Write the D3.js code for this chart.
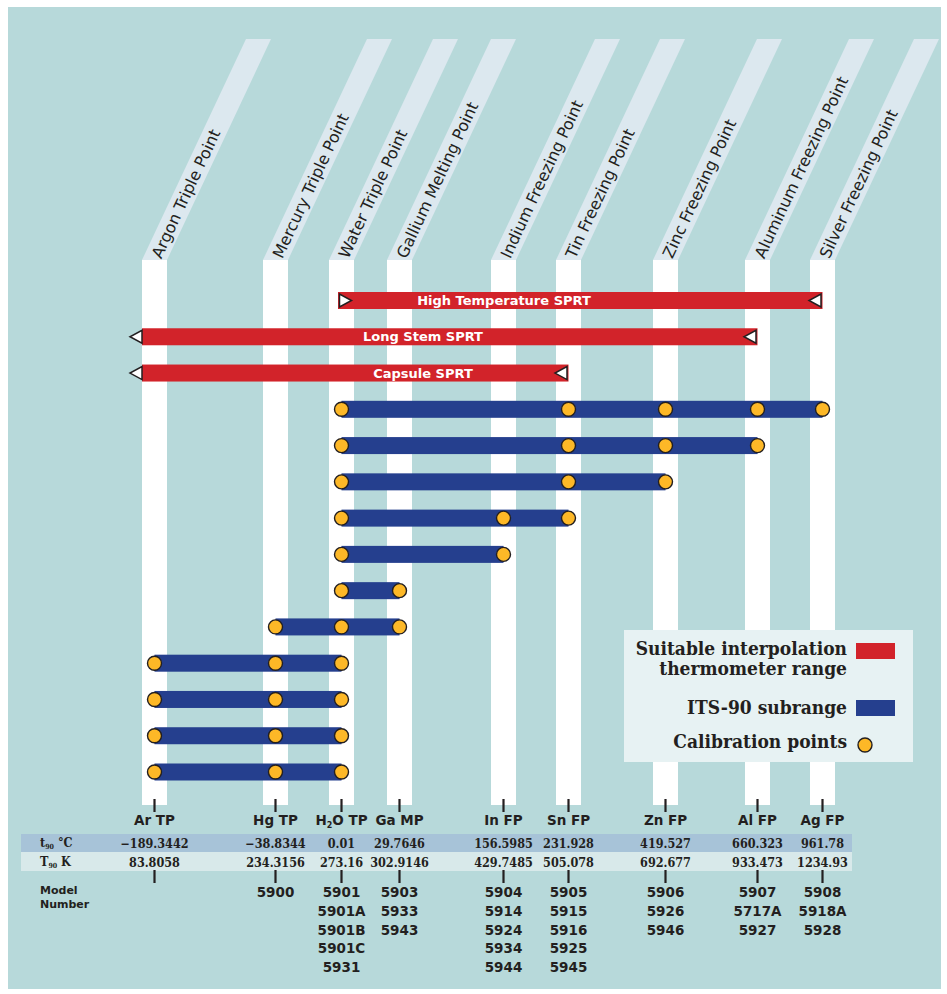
<!DOCTYPE html>
<html><head><meta charset="utf-8">
<script src="https://cdn.jsdelivr.net/npm/d3@7"></script>
<style>body{margin:0;background:#fff}svg{display:block}</style>
</head><body><svg id="c" width="947" height="994"></svg>
<script>
// ---------- DATA ----------
const pointCodes = ["Ar","Hg","H2O","Ga","In","Sn","Zn","Al","Ag"];
const pointNames = ["Argon Triple Point","Mercury Triple Point","Water Triple Point","Gallium Melting Point","Indium Freezing Point","Tin Freezing Point","Zinc Freezing Point","Aluminum Freezing Point","Silver Freezing Point"];
const pointShort = ["Ar|TP","Hg|TP","H2O|TP","Ga|MP","In|FP","Sn|FP","Zn|FP","Al|FP","Ag|FP"];
const t90C = ["\u2212189.3442","\u221238.8344","0.01","29.7646","156.5985","231.928","419.527","660.323","961.78"];
const T90K = ["83.8058","234.3156","273.16","302.9146","429.7485","505.078","692.677","933.473","1234.93"];
const modelNumbers = [[],["5900"],["5901","5901A","5901B","5901C","5931"],["5903","5933","5943"],["5904","5914","5924","5934","5944"],["5905","5915","5916","5925","5945"],["5906","5926","5946"],["5907","5717A","5927"],["5908","5918A","5928"]];
const thermometers = ["High Temperature SPRT","Long Stem SPRT","Capsule SPRT"];
const thermoFrom = ["H2O","Ar","Ar"];
const thermoTo = ["Ag","Al","Sn"];
const thermoBelowLowest = [false,true,true];
const subranges = [
  ["H2O","Sn","Zn","Al","Ag"],
  ["H2O","Sn","Zn","Al"],
  ["H2O","Sn","Zn"],
  ["H2O","In","Sn"],
  ["H2O","In"],
  ["H2O","Ga"],
  ["Hg","H2O","Ga"],
  ["Ar","Hg","H2O"],
  ["Ar","Hg","H2O"],
  ["Ar","Hg","H2O"],
  ["Ar","Hg","H2O"]
];
const legendItems = [["Suitable interpolation","thermometer range"],["ITS-90 subrange"],["Calibration points"]];

// ---------- LAYOUT ----------
const colX = [154.5,275.5,341.5,399.5,503.5,568.5,665.5,757.5,822.5];
const thermoLabelX = [504,423,423];
const C = {bg:"#b7d9da", band:"#dce8ef", red:"#d2232a", blue:"#253f8e", yellow:"#fdb827", ink:"#231f20",
  row1:"#a7c3d8", row2:"#d8e9ea", legend:"#e7f2f3"};
const SANS = "'DejaVu Sans', sans-serif";
const SERIF = "'DejaVu Serif Condensed','DejaVu Serif', serif";

const svg = d3.select("#c");
const x = d3.scaleOrdinal().domain(pointCodes).range(colX);
const nRows = thermometers.length + subranges.length;
const y = d3.scalePoint().domain(d3.range(nRows)).range([300.5, 772]);

svg.append("rect").attr("x",8).attr("y",7).attr("width",933).attr("height",982).attr("fill",C.bg);

// table rows (drawn first, under the texts)
svg.append("rect").attr("x",21).attr("y",834).attr("width",831).attr("height",18).attr("fill",C.row1);
svg.append("rect").attr("x",21).attr("y",852).attr("width",831).attr("height",19).attr("fill",C.row2);

const stripeW = 25, stripeTop = 260, stripeBot = 805, bandTop = 39, shift = 104;
const ang = Math.atan2(-(stripeTop-bandTop), shift)*180/Math.PI;

const cols = svg.append("g").selectAll("g").data(pointCodes).join("g");
cols.append("path").attr("fill",C.band).attr("d",d=>{
  const cx=x(d);
  return `M${cx-stripeW/2},${stripeTop}L${cx+stripeW/2},${stripeTop}L${cx+stripeW/2+shift},${bandTop}L${cx-stripeW/2+shift},${bandTop}Z`;
});
cols.append("rect").attr("x",d=>x(d)-stripeW/2).attr("y",stripeTop).attr("width",stripeW).attr("height",stripeBot-stripeTop).attr("fill","#fff");
cols.append("text").attr("transform",d=>{
  const off=3, cx=x(d)+shift*off/(stripeTop-bandTop), cy=stripeTop-off;
  return `translate(${cx},${cy}) rotate(${ang})`;
}).attr("dy","0.36em").attr("font-family",SANS).attr("font-size",16).attr("fill",C.ink)
  .text((d,i)=>pointNames[i]);

// ticks
cols.append("line").attr("x1",d=>x(d)).attr("x2",d=>x(d)).attr("y1",799).attr("y2",812).attr("stroke",C.ink).attr("stroke-width",2.2);
cols.append("line").attr("x1",d=>x(d)).attr("x2",d=>x(d)).attr("y1",870).attr("y2",883).attr("stroke",C.ink).attr("stroke-width",2.2);

// short labels
cols.append("text").attr("x",d=>x(d)).attr("y",825).attr("text-anchor","middle")
  .attr("font-family",SANS).attr("font-weight","bold").attr("font-size",13.5).attr("fill",C.ink)
  .each(function(d,i){
    const t=d3.select(this); const [a,b]=pointShort[i].split("|");
    if(a==="H2O"){
      t.append("tspan").text("H");
      t.append("tspan").attr("font-size",8).attr("dy",3).text("2");
      t.append("tspan").attr("dy",-3).text("O "+b);
    } else t.text(a+" "+b);
  });

const lab1 = svg.append("text").attr("x",40).attr("y",847).attr("font-family",SERIF).attr("font-weight","bold").attr("font-size",12.5).attr("fill",C.ink);
lab1.append("tspan").text("t");
lab1.append("tspan").attr("font-size",7).attr("dy",2).text("90");
lab1.append("tspan").attr("dy",-2).text(" \u00B0C");
const lab2 = svg.append("text").attr("x",40).attr("y",866).attr("font-family",SERIF).attr("font-weight","bold").attr("font-size",12.5).attr("fill",C.ink);
lab2.append("tspan").text("T");
lab2.append("tspan").attr("font-size",7).attr("dy",2).text("90");
lab2.append("tspan").attr("dy",-2).text(" K");

cols.append("text").attr("x",d=>x(d)).attr("y",847.5).attr("text-anchor","middle").attr("font-family",SERIF)
  .attr("font-weight","bold").attr("font-size",12.5).attr("fill",C.ink).text((d,i)=>t90C[i]);
cols.append("text").attr("x",d=>x(d)).attr("y",866.5).attr("text-anchor","middle").attr("font-family",SERIF)
  .attr("font-weight","bold").attr("font-size",12.5).attr("fill",C.ink).text((d,i)=>T90K[i]);

// model numbers
svg.append("text").attr("x",40).attr("y",894).attr("font-family",SANS).attr("font-weight","bold").attr("font-size",11).attr("fill",C.ink).text("Model");
svg.append("text").attr("x",40).attr("y",908).attr("font-family",SANS).attr("font-weight","bold").attr("font-size",11).attr("fill",C.ink).text("Number");
cols.each(function(d,i){
  d3.select(this).selectAll("text.m").data(modelNumbers[i]).join("text").attr("class","m")
    .attr("x",x(d)).attr("y",(m,j)=>897+j*18.8).attr("text-anchor","middle")
    .attr("font-family",SANS).attr("font-weight","bold").attr("font-size",13.5).attr("fill",C.ink).text(m=>m);
});

// thermometer bars
const barH = 17;
const tri = (xe, yc, dir) => `M${xe},${yc-6.5}L${xe},${yc+6.5}L${xe+dir*12},${yc}Z`;
thermometers.forEach((name,i)=>{
  const g = svg.append("g"), yc = y(i);
  const x0 = thermoBelowLowest[i] ? x(thermoFrom[i]) - stripeW/2 : x(thermoFrom[i]) - 3.5;
  const x1 = x(thermoTo[i]);
  g.append("rect").attr("x",x0).attr("y",yc-barH/2).attr("width",x1-x0).attr("height",barH).attr("fill",C.red);
  const left = thermoBelowLowest[i] ? tri(x0, yc, -1) : tri(x0+1.5, yc, 1);
  g.append("path").attr("d",left).attr("fill","#fff").attr("stroke",C.ink).attr("stroke-width",1.5).attr("stroke-linejoin","miter");
  g.append("path").attr("d",tri(x1-1.5, yc, -1)).attr("fill","#fff").attr("stroke",C.ink).attr("stroke-width",1.5);
  g.append("text").attr("x",thermoLabelX[i]).attr("y",yc).attr("dy","0.36em").attr("text-anchor","middle")
    .attr("font-family",SANS).attr("font-weight","bold").attr("font-size",13).attr("fill","#fff").text(name);
});

// subranges
subranges.forEach((pts,k)=>{
  const i = k + thermometers.length, yc = y(i), g = svg.append("g");
  const xs = pts.map(p=>x(p));
  g.append("rect").attr("x",d3.min(xs)).attr("y",yc-barH/2).attr("width",d3.max(xs)-d3.min(xs)).attr("height",barH).attr("fill",C.blue);
  g.selectAll("circle").data(pts).join("circle").attr("cx",p=>x(p)).attr("cy",yc).attr("r",7)
    .attr("fill",C.yellow).attr("stroke",C.ink).attr("stroke-width",1.4);
});

// legend
const lg = svg.append("g");
lg.append("rect").attr("x",624).attr("y",630).attr("width",289).attr("height",132).attr("fill",C.legend);
const legendRows = [[655,675],[714],[748]];
legendItems.forEach((lines,i)=>{
  lines.forEach((ln,j)=>{
    lg.append("text").attr("x",847).attr("y",legendRows[i][j]).attr("text-anchor","end")
      .attr("font-family",SERIF).attr("font-weight","bold").attr("font-size",19).attr("fill",C.ink).text(ln);
  });
});
lg.append("rect").attr("x",856).attr("y",643).attr("width",39).attr("height",16).attr("fill",C.red);
lg.append("rect").attr("x",856).attr("y",700).attr("width",39).attr("height",16).attr("fill",C.blue);
lg.append("circle").attr("cx",865).attr("cy",745).attr("r",7).attr("fill",C.yellow).attr("stroke",C.ink).attr("stroke-width",1.4);
</script></body></html>
